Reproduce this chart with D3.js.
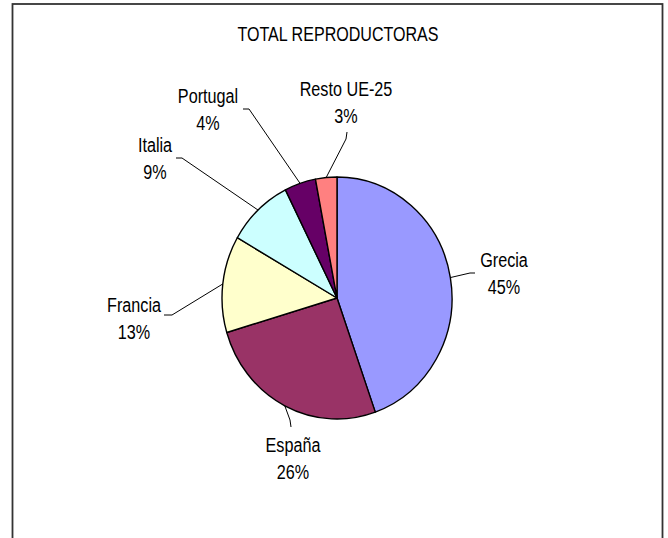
<!DOCTYPE html>
<html>
<head>
<meta charset="utf-8">
<script src="https://cdn.jsdelivr.net/npm/d3@7"></script>
<style>
  html, body { margin: 0; padding: 0; background: #fff; }
  svg { display: block; }
  text { font-family: "Liberation Sans Narrow", "Arial Narrow", "Liberation Sans", Arial, sans-serif; fill: #000; }
</style>
</head>
<body>
<svg id="chart" width="668" height="538"></svg>
<script>
// ---- data ----
const title = "TOTAL REPRODUCTORAS";
const categories = ["Grecia", "España", "Francia", "Italia", "Portugal", "Resto UE-25"];
const values = [44.6, 25.8, 12.9, 9.3, 4.4, 3.0];
const colors = ["#9999FF", "#993366", "#FFFFCC", "#CCFFFF", "#660066", "#FF8080"];

// ---- layout (label placement, relative to pie centre) ----
const labelPos = [[167, -31], [-44, 154], [-203, 14], [-182, -146], [-129, -195], [9, -202]];
const leaderAttach = [[138, -25], [-46, 129], [-173, 17], [-161, -140], [-94, -189], [10, -166]];
const leaderElbow = [[133, -25], [-47, 122], [-165, 17], [-155, -140], [-88, -189], [9, -159]];

const W = 668, H = 538;
const cx = 337, cy = 298, rx = 115, ry = 121;
const narrow = 0.81;
const svg = d3.select("#chart");

// frame
svg.append("rect")
  .attr("x", 12.5).attr("y", 4).attr("width", 650).attr("height", 560)
  .attr("fill", "#fff").attr("stroke", "#333").attr("stroke-width", 1.8);

// title
svg.append("g")
  .attr("transform", `translate(338,40.5) scale(0.765,1)`)
  .append("text")
  .attr("text-anchor", "middle")
  .attr("font-size", 21)
  .text(title);

const data = categories.map((c, i) => ({ name: c, value: values[i], color: colors[i], i }));
const total = d3.sum(values);
const pct = d3.format(".0%");

const pie = d3.pie().sort(null).value(d => d.value);
const arcs = pie(data);
const arc = d3.arc().innerRadius(0).outerRadius(rx);

const g = svg.append("g").attr("transform", `translate(${cx},${cy})`);
const pieG = g.append("g").attr("transform", `scale(1,${ry / rx})`);

pieG.selectAll("path.slice")
  .data(arcs)
  .join("path")
  .attr("class", "slice")
  .attr("d", arc)
  .attr("fill", d => d.data.color)
  .attr("stroke", "#000")
  .attr("stroke-width", 1.4)
  .attr("stroke-linejoin", "round")
  .attr("vector-effect", "non-scaling-stroke");

// leader lines
const edgePoint = d => {
  const a = (d.startAngle + d.endAngle) / 2;
  return [rx * Math.sin(a), -ry * Math.cos(a)];
};
g.selectAll("path.leader")
  .data(arcs)
  .join("path")
  .attr("class", "leader")
  .attr("d", d => {
    const i = d.data.i;
    return d3.line()([leaderAttach[i], leaderElbow[i], edgePoint(d)]);
  })
  .attr("fill", "none")
  .attr("stroke", "#000")
  .attr("stroke-width", 1);

// labels
const labels = g.selectAll("g.label")
  .data(arcs)
  .join("g")
  .attr("class", "label")
  .attr("transform", d => `translate(${labelPos[d.data.i][0]},${labelPos[d.data.i][1]}) scale(${narrow},1)`);
labels.append("text")
  .attr("text-anchor", "middle")
  .attr("font-size", 20)
  .text(d => d.data.name);
labels.append("text")
  .attr("text-anchor", "middle")
  .attr("font-size", 20)
  .attr("y", 27)
  .text(d => pct(d.data.value / total));
</script>
</body>
</html>
